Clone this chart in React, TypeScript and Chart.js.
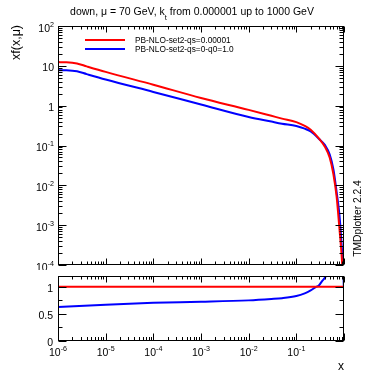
import React, { useEffect, useRef } from "react";
import { Chart, registerables } from "chart.js";

Chart.register(...registerables);

// ---------- data ----------
const xValues = [1e-6, 1.5e-6, 2.5e-6, 4e-6, 1e-5, 1e-4, 1e-3, 1e-2, 0.03, 0.05, 0.1, 0.15, 0.2, 0.3, 0.4, 0.5, 0.6, 0.7, 0.8, 0.9, 0.95];
const redValues = [12.4, 12.3, 11.5, 9.7, 7.04, 3.35, 1.56, 0.785, 0.556, 0.473, 0.385, 0.31, 0.248, 0.148, 0.092, 0.05, 0.019, 0.0052, 0.00085, 0.00015, 0.00004];
const blueValues = [7.8, 7.75, 7.3, 6.2, 4.55, 2.21, 1.07, 0.519, 0.398, 0.353, 0.31, 0.265, 0.225, 0.146, 0.102, 0.06, 0.025, 0.0068, 0.0019, 0.00028, 0.00011];

const ratioX = [1e-6, 1e-5, 1e-4, 1e-3, 1e-2, 0.03, 0.05, 0.1, 0.15, 0.2, 0.25, 0.3, 0.35, 0.4, 0.45, 0.5, 0.9, 0.99];
const redRatio = [1, 1, 1, 1, 1, 1, 1, 1, 1, 1, 1, 1, 1, 1, 1, 1, 1, 1];
const blueRatio = [0.628, 0.671, 0.705, 0.724, 0.75, 0.775, 0.79, 0.83, 0.88, 0.935, 0.99, 1.03, 1.11, 1.17, 1.25, 1.4, 2.5, 1.0];

const seriesLabels = ["PB-NLO-set2-qs=0.00001", "PB-NLO-set2-qs=0-q0=1.0"];
const seriesColors = ["#ff0000", "#0000ff"];

const xDecades = [-6, -5, -4, -3, -2, -1, 0];
const xLabelDecades = [-6, -5, -4, -3, -2, -1];
const yDecades = [-4, -3, -2, -1, 0, 1, 2];
const minorMults = [2, 3, 4, 5, 6, 7, 8, 9];
const ratioMajor = [0, 0.5, 1];
const ratioMajorLabels = ["0", "0.5", "1"];
const ratioMinor = [0.25, 0.75];

const titleParts = ["down, \u03bc = 70 GeV, k", "t", " from 0.000001 up to 1000 GeV"];
const yTitle = "xf(x,\u03bc)";
const xTitle = "x";
const sideText = "TMDplotter 2.2.4";

const FONT = "'Liberation Sans', Arial, Helvetica, sans-serif";

// ---------- helpers ----------
function seg(ctx: CanvasRenderingContext2D, x1: number, y1: number, x2: number, y2: number) {
  ctx.beginPath();
  ctx.moveTo(x1, y1);
  ctx.lineTo(x2, y2);
  ctx.stroke();
}

function drawPow(ctx: CanvasRenderingContext2D, e: number, x: number, baseY: number, align: "right" | "center", size: number) {
  const base = e === 0 ? "1" : "10";
  const sup = e === 0 || e === 1 ? "" : String(e);
  ctx.textAlign = "left";
  ctx.textBaseline = "alphabetic";
  ctx.font = `${size}px ${FONT}`;
  const wb = ctx.measureText(base).width;
  const ss = size * 0.68;
  ctx.font = `${ss}px ${FONT}`;
  const ws = sup ? ctx.measureText(sup).width : 0;
  const total = wb + ws;
  const sx = align === "right" ? x - total : x - total / 2;
  ctx.font = `${size}px ${FONT}`;
  ctx.fillText(base, sx, baseY);
  if (sup) {
    ctx.font = `${ss}px ${FONT}`;
    ctx.fillText(sup, sx + wb, baseY - size * 0.45);
  }
}

function drawXTicks(ctx: CanvasRenderingContext2D, xs: any, T: number, B: number, topLen: number, botLen: number) {
  for (const e of xDecades) {
    const mults = e === 0 ? [1] : [1, ...minorMults];
    for (const m of mults) {
      const v = m * Math.pow(10, e);
      const p = Math.round(xs.getPixelForValue(v)) + 0.5;
      const major = m === 1;
      seg(ctx, p, T, p, T + (major ? topLen : topLen / 2));
      seg(ctx, p, B, p, B - (major ? botLen : botLen / 2));
    }
  }
}

const topPlugin = {
  id: "topDecor",
  afterDraw(chart: any) {
    const { ctx, chartArea: a, scales } = chart;
    const xs = scales.x;
    const ys = scales.y;
    ctx.save();
    ctx.strokeStyle = "#000";
    ctx.fillStyle = "#000";
    ctx.lineWidth = 1;
    const L = Math.round(a.left) + 0.5;
    const R = Math.round(a.right) - 0.5;
    const T = Math.round(a.top) + 0.5;
    const B = Math.round(a.bottom) - 0.5;
    ctx.strokeRect(L, T, R - L, B - T);
    drawXTicks(ctx, xs, T, B, 6, 6);
    // y ticks
    for (const e of yDecades) {
      const mults = e === 2 ? [1] : [1, ...minorMults];
      for (const m of mults) {
        const v = m * Math.pow(10, e);
        const p = Math.round(ys.getPixelForValue(v)) + 0.5;
        const len = m === 1 ? 8 : 4;
        seg(ctx, L, p, L + len, p);
        seg(ctx, R, p, R - len, p);
      }
    }
    // y labels
    for (const e of yDecades) {
      const p = ys.getPixelForValue(Math.pow(10, e));
      drawPow(ctx, e, a.left - 4, p + 5.5, "right", 10.5);
    }
    // title
    ctx.textAlign = "left";
    ctx.textBaseline = "alphabetic";
    const big = `10.5px ${FONT}`;
    const small = `7.5px ${FONT}`;
    ctx.font = big;
    const w0 = ctx.measureText(titleParts[0]).width;
    const w2 = ctx.measureText(titleParts[2]).width;
    ctx.font = small;
    const w1 = ctx.measureText(titleParts[1]).width;
    let tx = 192 - (w0 + w1 + w2) / 2;
    ctx.font = big;
    ctx.fillText(titleParts[0], tx, 15);
    tx += w0;
    ctx.font = small;
    ctx.fillText(titleParts[1], tx, 20);
    tx += w1;
    ctx.font = big;
    ctx.fillText(titleParts[2], tx, 15);
    // legend
    chart.data.datasets.forEach((ds: any, i: number) => {
      const ly = 40 + i * 9;
      ctx.strokeStyle = ds.borderColor;
      ctx.lineWidth = 2;
      seg(ctx, 85, ly, 125, ly);
      ctx.fillStyle = "#000";
      ctx.font = `8.3px ${FONT}`;
      ctx.textBaseline = "middle";
      ctx.fillText(ds.label, 135, ly + 0.5);
    });
    // y title
    ctx.fillStyle = "#000";
    ctx.save();
    ctx.translate(20, 25);
    ctx.rotate(-Math.PI / 2);
    ctx.font = `12.5px ${FONT}`;
    ctx.textAlign = "right";
    ctx.textBaseline = "alphabetic";
    ctx.fillText(yTitle, 0, 0);
    ctx.restore();
    // side text
    ctx.save();
    ctx.translate(361, 218.5);
    ctx.rotate(-Math.PI / 2);
    ctx.font = `10.3px ${FONT}`;
    ctx.textAlign = "center";
    ctx.textBaseline = "alphabetic";
    ctx.fillText(sideText, 0, 0);
    ctx.restore();
    ctx.restore();
  },
};

const bottomPlugin = {
  id: "bottomDecor",
  afterDraw(chart: any) {
    const { ctx, chartArea: a, scales } = chart;
    const xs = scales.x;
    const ys = scales.y;
    ctx.save();
    ctx.strokeStyle = "#000";
    ctx.fillStyle = "#000";
    ctx.lineWidth = 1;
    const L = Math.round(a.left) + 0.5;
    const R = Math.round(a.right) - 0.5;
    const T = Math.round(a.top) + 0.5;
    const B = Math.round(a.bottom) - 0.5;
    ctx.strokeRect(L, T, R - L, B - T);
    drawXTicks(ctx, xs, T, B, 6, 7);
    for (const v of ratioMajor) {
      const p = Math.round(ys.getPixelForValue(v)) + 0.5;
      seg(ctx, L, p, L + 8, p);
      seg(ctx, R, p, R - 8, p);
    }
    for (const v of ratioMinor) {
      const p = Math.round(ys.getPixelForValue(v)) + 0.5;
      seg(ctx, L, p, L + 4, p);
      seg(ctx, R, p, R - 4, p);
    }
    // y labels
    ctx.font = `10.5px ${FONT}`;
    ctx.textAlign = "right";
    ctx.textBaseline = "alphabetic";
    ratioMajor.forEach((v, i) => {
      const p = ys.getPixelForValue(v);
      ctx.fillText(ratioMajorLabels[i], a.left - 5, p + 5);
    });
    // x labels
    for (const e of xLabelDecades) {
      const p = xs.getPixelForValue(Math.pow(10, e));
      drawPow(ctx, e, p, a.bottom + 15, "center", 10.5);
    }
    // x title
    ctx.font = `12px ${FONT}`;
    ctx.textAlign = "right";
    ctx.textBaseline = "alphabetic";
    ctx.fillText(xTitle, a.right, 100);
    ctx.restore();
  },
};

function mk(xArr: number[], yArr: number[]) {
  return xArr.map((x, i) => ({ x, y: yArr[i] }));
}

export default function App() {
  const topRef = useRef<HTMLCanvasElement>(null);
  const botRef = useRef<HTMLCanvasElement>(null);

  useEffect(() => {
    const common = (padding: any, yScale: any) => ({
      animation: false as const,
      responsive: false,
      events: [] as any[],
      layout: { padding },
      scales: {
        x: { type: "logarithmic" as const, min: 1e-6, max: 1, display: false },
        y: yScale,
      },
      plugins: { legend: { display: false }, title: { display: false }, tooltip: { enabled: false } },
    });
    const lineDs = (label: string, color: string, data: any) => ({
      label,
      data,
      borderColor: color,
      backgroundColor: color,
      borderWidth: 2,
      pointRadius: 0,
      fill: false,
      cubicInterpolationMode: "monotone" as const,
    });

    const top = new Chart(topRef.current!, {
      type: "line",
      data: {
        datasets: [
          lineDs(seriesLabels[0], seriesColors[0], mk(xValues, redValues)),
          lineDs(seriesLabels[1], seriesColors[1], mk(xValues, blueValues)),
        ],
      },
      options: common({ left: 58, right: 38, top: 26, bottom: 5 }, { type: "logarithmic", min: 1e-4, max: 100, display: false }),
      plugins: [topPlugin],
    } as any);

    const bot = new Chart(botRef.current!, {
      type: "line",
      data: {
        datasets: [
          lineDs(seriesLabels[0], seriesColors[0], mk(ratioX, redRatio)),
          lineDs(seriesLabels[1], seriesColors[1], mk(ratioX, blueRatio)),
        ],
      },
      options: common({ left: 58, right: 38, top: 6, bottom: 32 }, { type: "linear", min: 0, max: 1.2, display: false }),
      plugins: [bottomPlugin],
    } as any);

    return () => {
      top.destroy();
      bot.destroy();
    };
  }, []);

  return (
    <div style={{ position: "absolute", left: 0, top: 0, width: 382, height: 373, background: "#fff" }}>
      <canvas ref={topRef} width={382} height={270} style={{ position: "absolute", left: 0, top: 0, width: 382, height: 270 }} />
      <canvas ref={botRef} width={382} height={103} style={{ position: "absolute", left: 0, top: 270, width: 382, height: 103 }} />
    </div>
  );
}
